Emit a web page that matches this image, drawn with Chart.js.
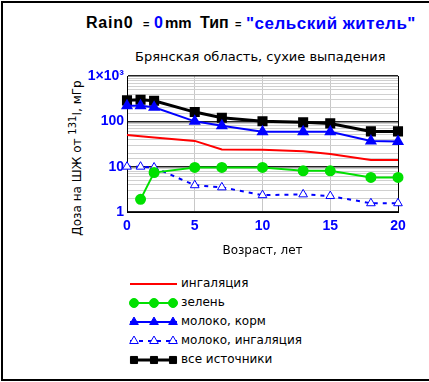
<!DOCTYPE html>
<html>
<head>
<meta charset="utf-8">
<script src="https://cdn.jsdelivr.net/npm/chart.js@4/dist/chart.umd.min.js"></script>
<style>
  body { margin: 0; background: #fff; font-family: "DejaVu Sans", sans-serif; }
  #wrap { position: relative; width: 429px; height: 382px; overflow: hidden; }
  #frame { position: absolute; left: 1px; top: 1px; width: 440px; height: 376px; border: 2px solid #000; }
  .txt { position: absolute; white-space: nowrap; color: #000; }
  .blue { color: #0000ff; }
  .hd { top: 14px; font-family: "Liberation Sans", Arial, sans-serif; font-size: 16px; font-weight: bold; }
  .hd.eq { font-size: 11px; top: 18px; }
  #sub { left: 135px; top: 49px; font-size: 13px; }
  #ytitle { left: 75px; top: 158px; font-size: 12px; transform: translate(-50%, -50%) rotate(-90deg); }
  .leg { left: 181px; font-size: 12px; }
  #chart-box { position: absolute; left: 0; top: 0; width: 429px; height: 382px; }
</style>
</head>
<body>
<div id="wrap">
  <div id="frame"></div>
  <div class="txt hd" style="left:86px;letter-spacing:0.8px">Rain0</div>
  <div class="txt hd eq" style="left:143px">=</div>
  <div class="txt hd blue" style="left:154px">0</div>
  <div class="txt hd" style="left:165px;font-size:15px">mm</div>
  <div class="txt hd" style="left:200px">Тип</div>
  <div class="txt hd eq" style="left:235px">=</div>
  <div class="txt hd blue" style="left:246px;font-size:17px;letter-spacing:0.5px">"сельский житель"</div>
  <div class="txt" id="sub">Брянская область, сухие выпадения</div>
  <div class="txt" id="ytitle">Доза на ШЖ от <sup style="font-size:10px">131</sup>I, мГр</div>
  <div id="legend"></div>
  <div id="chart-box"><canvas id="dose-chart"></canvas></div>
</div>
<script>
// возраст, лет
const ages = [0, 1, 2, 5, 7, 10, 13, 15, 18, 20];
// дозы, мГр
const inhalation = [50, 47, 44, 37, 24, 23.5, 22, 19, 14, 14];
const greens = [null, 1.9, 7.4, 9.6, 9.6, 9.6, 8.1, 8.1, 5.8, 5.8];
const milkFeed = [220, 220, 205, 100, 80, 59, 59, 59, 37, 36];
const milkInhal = [10, 10, 9.6, 3.9, 3.5, 2.35, 2.45, 2.25, 1.56, 1.56];
const allSources = [290, 300, 285, 160, 120, 100, 95, 90, 60, 60];

const seriesNames = ['ингаляция', 'зелень', 'молоко, корм', 'молоко, ингаляция', 'все источники'];
const xTicks = [0, 5, 10, 15, 20];
const yTickLabels = { 1: '1', 10: '10', 100: '100', 1000: '1×10³' };

const toPoints = (arr) => ages.map((a, i) => ({ x: a, y: arr[i] }));

const datasets = [
  { label: seriesNames[0], data: toPoints(inhalation), borderColor: '#ff0000', borderWidth: 2, pointRadius: 0 },
  { label: seriesNames[1], data: toPoints(greens), borderColor: '#00e000', backgroundColor: '#00e000', borderWidth: 2,
    pointStyle: 'circle', pointRadius: 4.5, pointBackgroundColor: '#00e000', pointBorderColor: '#00e000' },
  { label: seriesNames[2], data: toPoints(milkFeed), borderColor: '#0000ff', borderWidth: 2,
    pointStyle: 'triangle', pointRadius: 5, pointBackgroundColor: '#0000ff', pointBorderColor: '#0000ff' },
  { label: seriesNames[3], data: toPoints(milkInhal), borderColor: '#0000ff', borderWidth: 2, borderDash: [4, 5],
    pointStyle: 'triangle', pointRadius: 5, pointBackgroundColor: '#ffffff', pointBorderColor: '#0000ff', pointBorderWidth: 1 },
  { label: seriesNames[4], data: toPoints(allSources), borderColor: '#000000', borderWidth: 3,
    pointStyle: 'rect', pointRadius: 5, pointBackgroundColor: '#000000', pointBorderColor: '#000000' },
];
datasets.forEach((d) => { d.clip = 10; d.spanGaps = false; });

// подписи легенды
const legendY = [284, 303, 322, 341, 360];
const legendBox = document.getElementById('legend');
seriesNames.forEach((name, i) => {
  const el = document.createElement('div');
  el.className = 'txt leg';
  el.style.top = (legendY[i] - 8) + 'px';
  el.textContent = name;
  legendBox.appendChild(el);
});

// образцы линий легенды рисуем тем же стилем, что и серии
const legendSamples = {
  id: 'legendSamples',
  afterDraw(chart) {
    const ctx = chart.ctx;
    chart.data.datasets.forEach((ds, i) => {
      const y = legendY[i];
      ctx.save();
      ctx.strokeStyle = ds.borderColor;
      ctx.lineWidth = ds.borderWidth;
      ctx.setLineDash(ds.borderDash || []);
      ctx.beginPath();
      ctx.moveTo(130, y);
      ctx.lineTo(177, y);
      ctx.stroke();
      ctx.setLineDash([]);
      if (ds.pointRadius > 0) {
        [134, 154, 173].forEach((x) => {
          ctx.fillStyle = ds.pointBackgroundColor;
          ctx.strokeStyle = ds.pointBorderColor;
          ctx.lineWidth = ds.pointBorderWidth || 1;
          Chart.helpers.drawPoint(ctx, { pointStyle: ds.pointStyle, radius: ds.pointRadius, rotation: 0, borderWidth: ds.pointBorderWidth || 1 }, x, y);
        });
      }
      ctx.restore();
    });
  },
};

const isMajor = (v) => Math.abs(Math.log10(v) - Math.round(Math.log10(v))) < 1e-9;

new Chart(document.getElementById('dose-chart'), {
  type: 'line',
  data: { datasets },
  plugins: [legendSamples],
  options: {
    responsive: true,
    maintainAspectRatio: false,
    animation: false,
    layout: { padding: { left: 0, top: 76, right: 31, bottom: 120 } },
    plugins: { legend: { display: false }, title: { display: false }, tooltip: { enabled: false } },
    scales: {
      x: {
        type: 'linear',
        min: 0,
        max: 20,
        afterBuildTicks: (scale) => { scale.ticks = xTicks.map((v) => ({ value: v })); },
        afterFit: (scale) => { scale.height = 50; },
        ticks: { padding: 6, color: '#0000ff', font: { family: 'Liberation Sans', size: 14, weight: 'bold' } },
        grid: {
          drawTicks: false,
          color: (c) => (c.tick && (c.tick.value === 0 || c.tick.value === 20) ? '#000' : '#c8c8c8'),
        },
        border: { color: '#000', width: 1 },
        title: { display: true, text: 'Возраст, лет', color: '#000', font: { family: 'DejaVu Sans', size: 12 } },
      },
      y: {
        type: 'logarithmic',
        min: 1,
        max: 1000,
        afterFit: (scale) => { scale.width = 127; },
        ticks: {
          autoSkip: false,
          padding: 3,
          color: '#0000ff',
          font: { family: 'Liberation Sans', size: 14, weight: 'bold' },
          callback: (v) => (isMajor(v) ? yTickLabels[Math.round(v)] : ''),
        },
        grid: {
          drawTicks: false,
          color: (c) => (c.tick && isMajor(c.tick.value) ? '#222' : '#d0d0d0'),
          lineWidth: (c) => (c.tick && isMajor(c.tick.value) ? 1.5 : 1),
        },
        border: { color: '#000', width: 1 },
      },
    },
  },
});
</script>
</body>
</html>
